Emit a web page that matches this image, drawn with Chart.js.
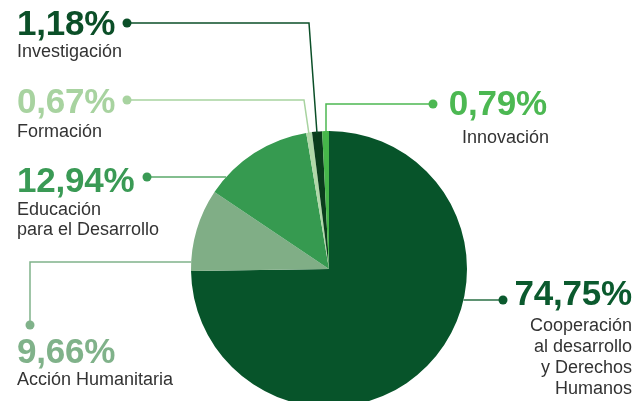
<!DOCTYPE html>
<html>
<head>
<meta charset="utf-8">
<script src="https://cdn.jsdelivr.net/npm/chart.js@4/dist/chart.umd.min.js"></script>
<style>
  html, body { margin: 0; padding: 0; background: #fff; }
  #wrap { position: relative; width: 637px; height: 401px; overflow: hidden; font-family: "Liberation Sans", Arial, sans-serif; }
  #chartBox { position: absolute; left: 0; top: 0; width: 637px; height: 420px; }
  .big { position: absolute; font-weight: bold; font-size: 35px; line-height: 1; letter-spacing: -0.2px; white-space: nowrap; }
  .small { position: absolute; font-size: 18px; line-height: 21px; color: #333; white-space: nowrap; }
  .r { text-align: right; }
</style>
</head>
<body>
<div id="wrap">
  <div id="chartBox"><canvas id="pie"></canvas></div>
</div>
<script>
// data, clockwise from 12 o'clock
const categories = ["Cooperación al desarrollo y Derechos Humanos", "Acción Humanitaria", "Educación para el Desarrollo", "Formación", "Investigación", "Innovación"]
const labelLines = [
  ["Cooperación", "al desarrollo", "y Derechos", "Humanos"],
  ["Acción Humanitaria"],
  ["Educación", "para el Desarrollo"],
  ["Formación"],
  ["Investigación"],
  ["Innovación"]
]
const values = [74.75, 9.66, 12.94, 0.67, 1.18, 0.79]
const sliceColors = ["#07542a", "#80ae86", "#369a50", "#b0d8a8", "#0a3d1c", "#46b74a"]
const textColors = ["#0b5a2e", "#80b28a", "#3a9a55", "#a8d3a0", "#0b4f28", "#4cb852"]
const lineColors = ["#2a6f45", "#80b28a", "#5aa86a", "#a8d3a0", "#0b4f28", "#4cb852"]

// label layout: big baseline, small baseline, x, align, leader path
const labelLayout = [
  { x: 632, sx: 632, align: "right", big: 305, small: 332, lh: 21, dot: [503, 300], leader: { edgeY: 300, side: 1 } },
  { x: 17, align: "left", big: 363, small: 386, lh: 21, dot: [30, 325], leader: { via: [30, 262], edgeY: 262, side: -1 } },
  { x: 17, align: "left", big: 192, small: 216, lh: 20, dot: [147, 177], leader: { edgeY: 177, side: -1 } },
  { x: 17, align: "left", big: 113, small: 138, lh: 21, dot: [127, 100], leader: { via: [304, 100], edgeX: 309 } },
  { x: 17, align: "left", big: 35, small: 58, lh: 21, dot: [127, 23], leader: { via: [309, 23], edgeX: 317 } },
  { x: 547, sx: 549, align: "right", big: 115, small: 144, lh: 21, dot: [433, 104], leader: { via: [326, 104], edgeX: 326 } }
]

const fmt = v => v.toFixed(2).replace(".", ",") + "%"

const wrap = document.getElementById("wrap")
labelLayout.forEach((l, i) => {
  const big = document.createElement("div")
  big.className = "big"
  big.textContent = fmt(values[i])
  big.style.color = textColors[i]
  big.style.top = (l.big - 29.6) + "px"
  const small = document.createElement("div")
  small.className = "small"
  small.style.lineHeight = l.lh + "px"
  small.style.top = (l.small - 16.7 - (21 - l.lh) / 2) + "px"
  small.innerHTML = labelLines[i].join("<br>")
  if (l.align === "right") {
    big.style.right = (637 - l.x) + "px"
    small.style.right = (637 - l.sx) + "px"
    small.classList.add("r")
  } else {
    big.style.left = l.x + "px"
    small.style.left = l.x + "px"
  }
  wrap.appendChild(big)
  wrap.appendChild(small)
})

const leaderPlugin = {
  id: "leaders",
  afterDatasetsDraw(chart) {
    const arc = chart.getDatasetMeta(0).data[0]
    const cx = arc.x, cy = arc.y, r = arc.outerRadius
    const ctx = chart.ctx
    ctx.save()
    labelLayout.forEach((l, i) => {
      const pts = [l.dot]
      const ld = l.leader
      if (ld.via) pts.push(ld.via)
      if (ld.edgeY !== undefined) {
        const dy = cy - ld.edgeY
        pts.push([cx + ld.side * Math.sqrt(r * r - dy * dy), ld.edgeY])
      } else {
        const dx = ld.edgeX - cx
        pts.push([ld.edgeX, cy - Math.sqrt(r * r - dx * dx) + 2])
      }
      ctx.strokeStyle = lineColors[i]
      ctx.lineWidth = 1.5
      ctx.beginPath()
      pts.forEach((p, k) => k ? ctx.lineTo(p[0], p[1]) : ctx.moveTo(p[0], p[1]))
      ctx.stroke()
      ctx.fillStyle = textColors[i]
      ctx.beginPath()
      ctx.arc(l.dot[0], l.dot[1], 4.5, 0, Math.PI * 2)
      ctx.fill()
    })
    ctx.restore()
  }
}

new Chart(document.getElementById("pie"), {
  type: "pie",
  data: {
    labels: categories,
    datasets: [{
      data: values,
      backgroundColor: sliceColors,
      borderWidth: 0
    }]
  },
  options: {
    responsive: true,
    maintainAspectRatio: false,
    animation: false,
    layout: { padding: { left: 191, right: 170, top: 131, bottom: 13 } },
    plugins: {
      legend: { display: false },
      tooltip: { enabled: false }
    }
  },
  plugins: [leaderPlugin]
})
</script>
</body>
</html>
